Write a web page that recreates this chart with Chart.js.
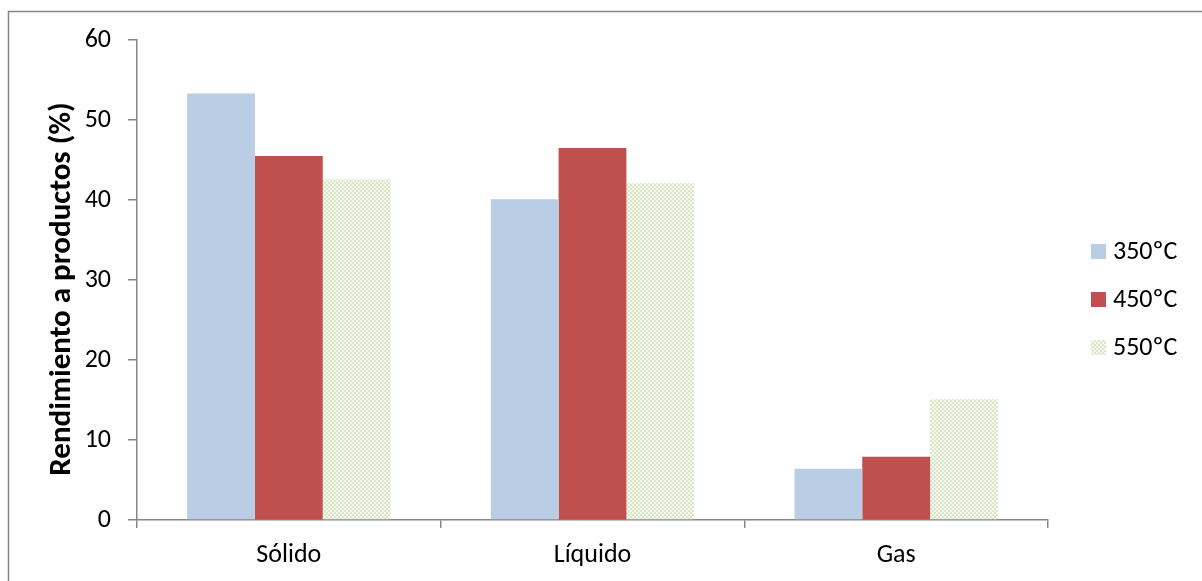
<!DOCTYPE html>
<html>
<head>
<meta charset="utf-8">
<script src="https://cdn.jsdelivr.net/npm/chart.js@4/dist/chart.umd.min.js"></script>
<style>
  html, body { margin: 0; padding: 0; background: #fff; }
  #wrap { width: 1202px; height: 581px; position: relative; }
</style>
</head>
<body>
<div id="wrap"><canvas id="c"></canvas></div>
<script>
// Product yields by pyrolysis temperature
const categories = ['Sólido', 'Líquido', 'Gas'];
const seriesNames = ['350ºC', '450ºC', '550ºC'];
const yield350 = [53.3, 40.1, 6.4];
const yield450 = [45.5, 46.5, 7.9];
const yield550 = [42.6, 42.1, 15.1];
const yTicks = [0, 10, 20, 30, 40, 50, 60];
const yTitle = 'Rendimiento a productos (%)';

const FONT = 'Carlito, Calibri, Lato, sans-serif';
const AXIS = '#868686';
const TEXT_SIZE = 26;

// fine checkered green fill for the 550 ºC series
function checkerPattern() {
  const p = document.createElement('canvas');
  p.width = 4; p.height = 4;
  const g = p.getContext('2d');
  g.fillStyle = '#dae6c6';
  g.fillRect(0, 0, 4, 4);
  g.fillStyle = '#f5f8ef';
  g.fillRect(0, 0, 2, 2);
  g.fillRect(2, 2, 2, 2);
  return g.createPattern(p, 'repeat');
}
const greenFill = checkerPattern();

// outer frame, vertical axis title and right-hand legend
const decorations = {
  id: 'decorations',
  afterDraw(chart) {
    const ctx = chart.ctx;
    ctx.save();
    ctx.strokeStyle = AXIS;
    ctx.lineWidth = 1.5;
    ctx.beginPath();
    ctx.moveTo(8.5, 600);
    ctx.lineTo(8.5, 11.5);
    ctx.lineTo(1250, 11.5);
    ctx.stroke();

    // axis title, rotated, a little below the plot's mid-height
    const area = chart.chartArea;
    ctx.save();
    ctx.translate(62, (area.top + area.bottom) / 2 + 9);
    ctx.rotate(-Math.PI / 2);
    ctx.font = 'bold 31px ' + FONT;
    ctx.fillStyle = '#000';
    ctx.textAlign = 'center';
    ctx.textBaseline = 'middle';
    ctx.fillText(yTitle, 0, 0);
    ctx.restore();

    ctx.font = TEXT_SIZE + 'px ' + FONT;
    ctx.textBaseline = 'middle';
    ctx.textAlign = 'left';
    chart.data.datasets.forEach((ds, i) => {
      const cy = 251.5 + i * 48;
      ctx.fillStyle = ds.backgroundColor;
      ctx.fillRect(1091, cy - 7.5, 15, 15);
      ctx.fillStyle = '#000';
      ctx.fillText(ds.label, 1113, cy + 1);
    });
    ctx.restore();
  }
};

new Chart(document.getElementById('c'), {
  type: 'bar',
  data: {
    labels: categories,
    datasets: [
      { label: seriesNames[0], data: yield350, backgroundColor: '#b9cde5' },
      { label: seriesNames[1], data: yield450, backgroundColor: '#c0504d' },
      { label: seriesNames[2], data: yield550, backgroundColor: greenFill }
    ]
  },
  options: {
    responsive: true,
    maintainAspectRatio: false,
    animation: false,
    devicePixelRatio: 1,
    layout: { padding: { left: 0, top: 40, right: 154, bottom: 0 } },
    datasets: { bar: { categoryPercentage: 0.67, barPercentage: 1.0, borderWidth: 0 } },
    plugins: { legend: { display: false }, tooltip: { enabled: false } },
    scales: {
      x: {
        afterFit(s) { s.height = 61; },
        grid: {
          offset: true, drawOnChartArea: false, drawTicks: true,
          tickLength: 8, color: AXIS, lineWidth: 1.5
        },
        border: { color: AXIS, width: 1.5 },
        ticks: { color: '#000', font: { family: FONT, size: TEXT_SIZE }, padding: 12 }
      },
      y: {
        min: 0, max: 60,
        afterFit(s) { s.width = 137; },
        afterBuildTicks(s) { s.ticks = yTicks.map(v => ({ value: v })); },
        grid: {
          drawOnChartArea: false, drawTicks: true,
          tickLength: 9, color: AXIS, lineWidth: 1.5
        },
        border: { color: AXIS, width: 1.5 },
        ticks: { color: '#000', font: { family: FONT, size: TEXT_SIZE }, padding: 17 }
      }
    }
  },
  plugins: [decorations]
});
</script>
</body>
</html>
